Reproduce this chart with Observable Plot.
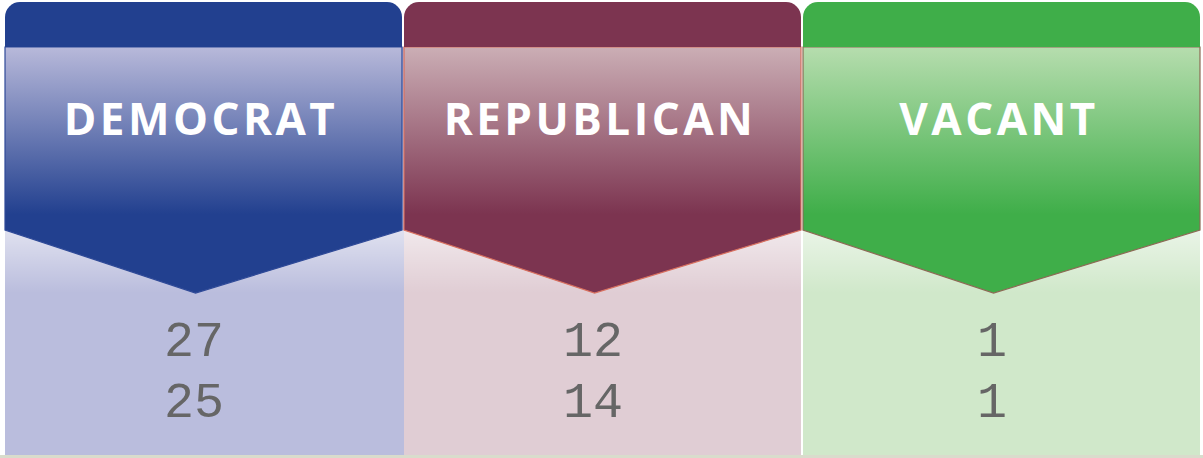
<!DOCTYPE html>
<html>
<head>
<meta charset="utf-8">
<script src="https://cdn.jsdelivr.net/npm/d3@7"></script>
<script src="https://cdn.jsdelivr.net/npm/@observablehq/plot@0.6"></script>
<style>
  html, body { margin: 0; padding: 0; background: #ffffff; }
  #chart svg { display: block; }
</style>
</head>
<body>
<div id="chart"></div>
<script>
// ---- data ----
const parties = ["DEMOCRAT", "REPUBLICAN", "VACANT"];
const seatsRow1 = [27, 12, 1];
const seatsRow2 = [25, 14, 1];

// ---- styles ----
const darkColors  = ["#22408f", "#7c3450", "#3fae49"];
const lightColors = ["#b8b9da", "#cbaeb5", "#b6ddae"];
const baseColors  = ["#babddd", "#e0cdd4", "#d0e8ca"];
const edgeColors  = ["#2f4a98", "#d9705f", "#8d6a55"];

const W = 1203, H = 458;
const L = { top: 2, barBottom: 47, shoulder: 230, tip: 293, bottom: 455, radius: 15 };

const table = parties.map((p, i) => ({ party: p, row1: seatsRow1[i], row2: seatsRow2[i] }));

function panels(index, scales, values, dimensions) {
  const x = scales.x;
  const bw = typeof x.bandwidth === "function" ? x.bandwidth() : x.bandwidth;
  const g = d3.create("svg:g");
  const defs = g.append("defs");
  g.append("rect").attr("x", 0).attr("y", L.bottom).attr("width", dimensions.width)
    .attr("height", dimensions.height - L.bottom).attr("fill", "#d9dccc");
  parties.forEach((p, i) => {
    const x0 = x(p), x1 = x0 + bw, cx = x0 + bw * 0.48;
    const gid = "hdr" + i, bid = "bot" + i;
    const hg = defs.append("linearGradient").attr("id", gid)
      .attr("gradientUnits", "userSpaceOnUse").attr("x1", 0).attr("x2", 0)
      .attr("y1", L.barBottom).attr("y2", L.tip);
    hg.append("stop").attr("offset", 0).attr("stop-color", lightColors[i]);
    hg.append("stop").attr("offset", 0.68).attr("stop-color", darkColors[i]);
    hg.append("stop").attr("offset", 1).attr("stop-color", darkColors[i]);
    const bg = defs.append("linearGradient").attr("id", bid)
      .attr("gradientUnits", "userSpaceOnUse").attr("x1", 0).attr("x2", 0)
      .attr("y1", L.shoulder).attr("y2", L.tip);
    bg.append("stop").attr("offset", 0).attr("stop-color", "#ffffff").attr("stop-opacity", 0.55);
    bg.append("stop").attr("offset", 1).attr("stop-color", "#ffffff").attr("stop-opacity", 0);

    const extra = i === 0 ? 3 : 0;
    g.append("rect").attr("x", x0).attr("y", L.barBottom).attr("width", bw + extra)
      .attr("height", L.bottom - L.barBottom).attr("fill", baseColors[i]);
    g.append("rect").attr("x", x0).attr("y", L.shoulder).attr("width", bw + extra)
      .attr("height", L.tip - L.shoulder).attr("fill", `url(#${bid})`);
    const hp = `M${x0},${L.barBottom}H${x1}V${L.shoulder}L${cx},${L.tip}L${x0},${L.shoulder}Z`;
    g.append("path").attr("d", hp).attr("fill", `url(#${gid})`)
      .attr("stroke", edgeColors[i]).attr("stroke-width", 1.2);
    const r = L.radius;
    const tp = `M${x0},${L.barBottom}V${L.top + r}A${r},${r} 0 0 1 ${x0 + r},${L.top}H${x1 - r}A${r},${r} 0 0 1 ${x1},${L.top + r}V${L.barBottom}Z`;
    g.append("path").attr("d", tp).attr("fill", darkColors[i]);
  });
  return g.node();
}

const chart = Plot.plot({
  width: W,
  height: H,
  margin: 0,
  style: { background: "transparent", overflow: "visible" },
  x: { type: "band", domain: parties, range: [4, 1201], paddingInner: 0.006, paddingOuter: 0, axis: null },
  marks: [
    panels,
    Plot.text(table, {
      x: "party", text: "party", frameAnchor: "top", lineAnchor: "middle", dy: 120,
      fill: "#ffffff", fontSize: 44, fontWeight: 700,
      fontFamily: "Open Sans, sans-serif", dx: -3, className: "hdrlabel"
    }),
    Plot.text(table, {
      x: "party", text: d => String(d.row1), frameAnchor: "top", lineAnchor: "middle", dy: 339,
      fill: "#666666", fontSize: 50, fontFamily: "Liberation Mono, monospace", dx: -10
    }),
    Plot.text(table, {
      x: "party", text: d => String(d.row2), frameAnchor: "top", lineAnchor: "middle", dy: 400,
      fill: "#666666", fontSize: 50, fontFamily: "Liberation Mono, monospace", dx: -10
    })
  ]
});
chart.querySelectorAll(".hdrlabel text").forEach(t => { t.style.letterSpacing = "3.5px"; });
document.getElementById("chart").appendChild(chart);
</script>
</body>
</html>
